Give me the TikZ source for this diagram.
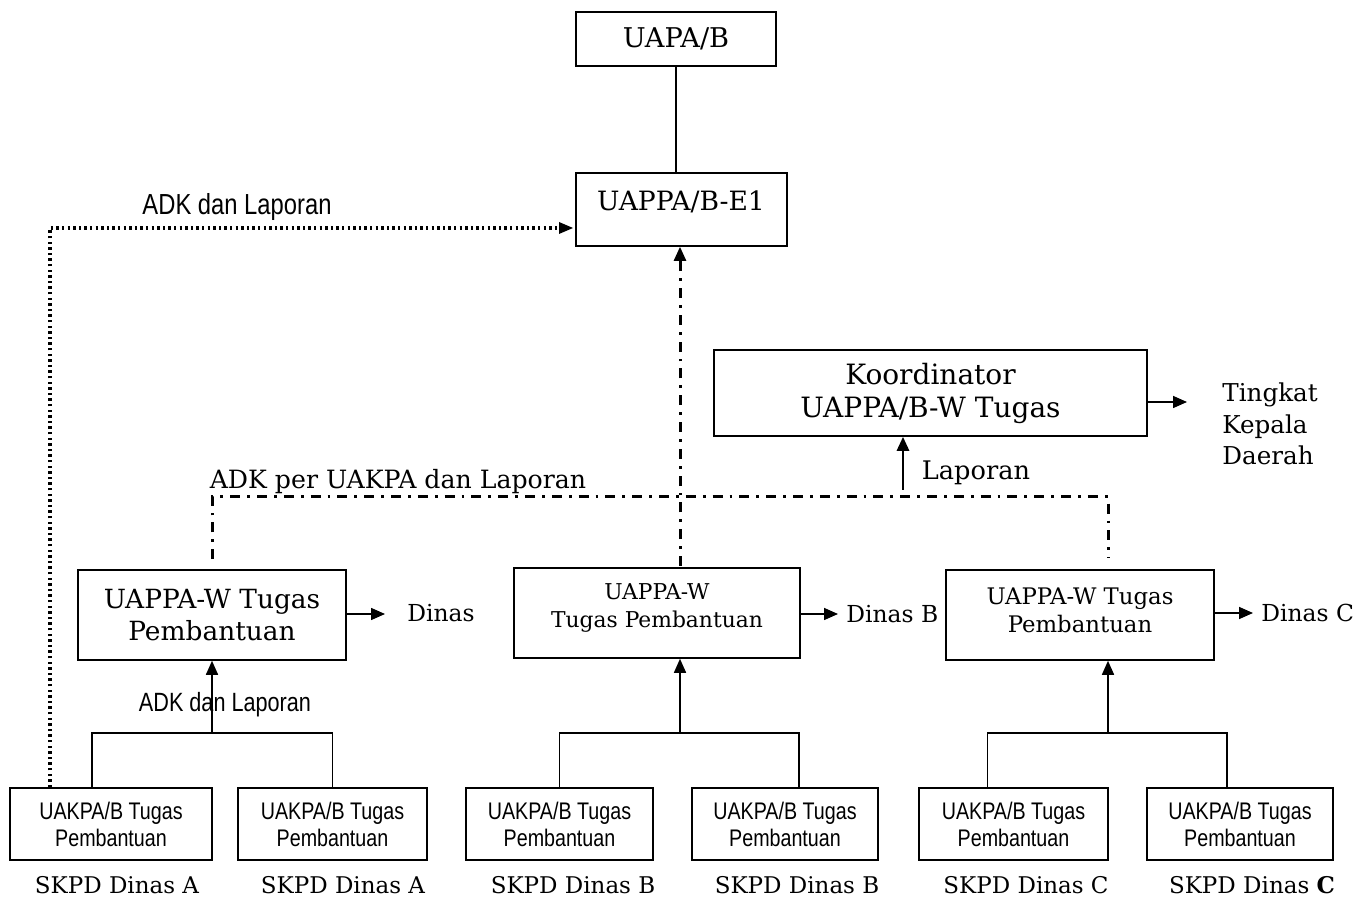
\documentclass[tikz,border=0pt]{standalone}
\usepackage{fontspec}
\setmainfont{DejaVu Serif}
\newfontfamily\nsans[FakeStretch=0.82]{Liberation Sans}
\usetikzlibrary{arrows.meta,calc}
\tikzset{
  box/.style={draw, line width=0.8pt, inner sep=0pt, align=center},
  conn/.style={line width=0.8pt},
  arr/.style={line width=0.8pt, -{Triangle[length=7pt,width=6pt]}},
  dotl/.style={line width=1.6pt, dash pattern=on 1.2pt off 1.6pt},
  ddot/.style={line width=1.5pt, dash pattern=on 5pt off 3.5pt on 1.4pt off 3.5pt},
  lbl/.style={inner sep=0pt, align=center},
  sanslbl/.style={inner sep=0pt, font=\nsans\fontsize{14.5}{16}\selectfont},
  leaf/.style={box, minimum height=36pt, font=\nsans\fontsize{12}{13.5}\selectfont},
  skpd/.style={inner sep=0pt, font=\fontsize{11.5}{13}\selectfont},
}
\begin{document}
\begin{tikzpicture}[x=0.5pt,y=-0.5pt]
\useasboundingbox (0,0) rectangle (1367,898);
% top boxes
\node[box, minimum width=100pt, minimum height=27pt, font=\fontsize{13.6}{15}\selectfont] (uapa) at (676,39) {UAPA/B};
\node[box, minimum width=105.5pt, minimum height=36.5pt] (e1) at (681.5,209.5) {};
\node[lbl, font=\fontsize{13.3}{15}\selectfont] (e1t) at (681,202) {UAPPA/B-E1};
\draw[conn] (uapa.south) -- (uapa.south |- e1.north);
% koordinator
\node[box, minimum width=216.5pt, minimum height=43pt, font=\fontsize{14}{16.5}\selectfont] (koor) at (930.5,393) {Koordinator\\UAPPA/B-W Tugas};
\coordinate (koe) at (1187,402);
\draw[arr] (koor.east |- koe) -- (koe);
\node[lbl, anchor=west, align=left, font=\fontsize{12.3}{15.75}\selectfont] (tkd) at (1222,424) {Tingkat\\Kepala\\Daerah};
% UAPPA-W boxes
\node[box, minimum width=134pt, minimum height=45pt, font=\fontsize{13.2}{16}\selectfont] (wa) at (212,615) {UAPPA-W Tugas\\Pembantuan};
\node[box, minimum width=143pt, minimum height=45pt] (wb) at (657,613) {};
\node[lbl, font=\fontsize{10.9}{14}\selectfont] (wbt) at (657,608) {UAPPA-W\\Tugas Pembantuan};
\node[box, minimum width=134pt, minimum height=45pt] (wc) at (1080,615) {};
\node[lbl, font=\fontsize{11.4}{14}\selectfont] (wct) at (1080,610) {UAPPA-W Tugas\\Pembantuan};
% outputs
\coordinate (wae) at (385,614);
\coordinate (wbe) at (838,614);
\coordinate (wce) at (1253,613);
\draw[arr] (wa.east |- wae) -- (wae);
\draw[arr] (wb.east |- wbe) -- (wbe);
\draw[arr] (wc.east |- wce) -- (wce);
\node[lbl, anchor=west, font=\fontsize{11.7}{14}\selectfont] (da) at (407,613) {Dinas};
\node[lbl, anchor=west, font=\fontsize{11.7}{14}\selectfont] (db) at (846,614) {Dinas B};
\node[lbl, anchor=west, font=\fontsize{11.7}{14}\selectfont] (dc) at (1261,613) {Dinas C};
% leaves
\node[leaf, minimum width=101pt] (a1) at (111,824) {UAKPA/B Tugas\\Pembantuan};
\node[leaf, minimum width=94.5pt] (a2) at (332.5,824) {UAKPA/B Tugas\\Pembantuan};
\node[leaf, minimum width=93.5pt] (b1) at (559.5,824) {UAKPA/B Tugas\\Pembantuan};
\node[leaf, minimum width=93pt] (b2) at (785,824) {UAKPA/B Tugas\\Pembantuan};
\node[leaf, minimum width=94.5pt] (c1) at (1013.5,824) {UAKPA/B Tugas\\Pembantuan};
\node[leaf, minimum width=93pt] (c2) at (1240,824) {UAKPA/B Tugas\\Pembantuan};
\node[skpd] (sa1) at (117,885) {SKPD Dinas A};
\node[skpd] (sa2) at (343,885) {SKPD Dinas A};
\node[skpd] (sb1) at (573,885) {SKPD Dinas B};
\node[skpd] (sb2) at (797,885) {SKPD Dinas B};
\node[skpd] (sc1) at (1026,885) {SKPD Dinas C};
\node[skpd] (sc2) at (1252,885) {SKPD Dinas \textbf{C}};
% trees
\coordinate (ja) at (212,733);
\coordinate (jb) at (680,733);
\coordinate (jc) at (1108,733);
\draw[conn] ([xshift=-9.5pt]a1.north) |- (ja) -| (a2.north);
\draw[arr] (ja) -- (ja |- wa.south);
\draw[conn] (b1.north) |- (jb) -| ([xshift=7pt]b2.north);
\draw[arr] (jb) -- (jb |- wb.south);
\draw[conn] ([xshift=-13pt]c1.north) |- (jc) -| ([xshift=-6.5pt]c2.north);
\draw[arr] (jc) -- (jc |- wc.south);
\node[sanslbl, font=\nsans\fontsize{13.2}{15}\selectfont] (adk2) at (225,705) {ADK dan Laporan};
% dotted ADK
\coordinate (dtop) at (50,228);
\coordinate (dend) at (560,228);
\draw[dotl] ([xshift=-30.5pt]a1.north) -- (dtop) -- (dend);
\fill (dend) ++(-1,-6) -- ++(14,6) -- ++(-14,6) -- cycle;
\node[sanslbl] (adk1) at (237,207) {ADK dan Laporan};
% dash-dot
\coordinate (dl) at (212,497);
\coordinate (dr) at (1108,497);
\coordinate (drb) at (1108,558);
\coordinate (cb) at (680,566);
\draw[ddot] ([yshift=5pt]wa.north) -- (dl) -- (dr) -- (drb);
\draw[ddot] (cb) -- ($(cb |- e1.south)+(0,14)$);
\draw[arr, line width=1.2pt] ($(cb |- e1.south)+(0,16)$) -- (cb |- e1.south);
\node[lbl, font=\fontsize{12.6}{15}\selectfont] (adkper) at (398,482) {ADK per UAKPA dan Laporan};
% laporan
\coordinate (lap) at (903,490);
\draw[arr, line width=1.4pt] (lap) -- (lap |- koor.south);
\node[lbl, font=\fontsize{12.8}{15}\selectfont] (laptxt) at (976,473) {Laporan};
\end{tikzpicture}
\end{document}
